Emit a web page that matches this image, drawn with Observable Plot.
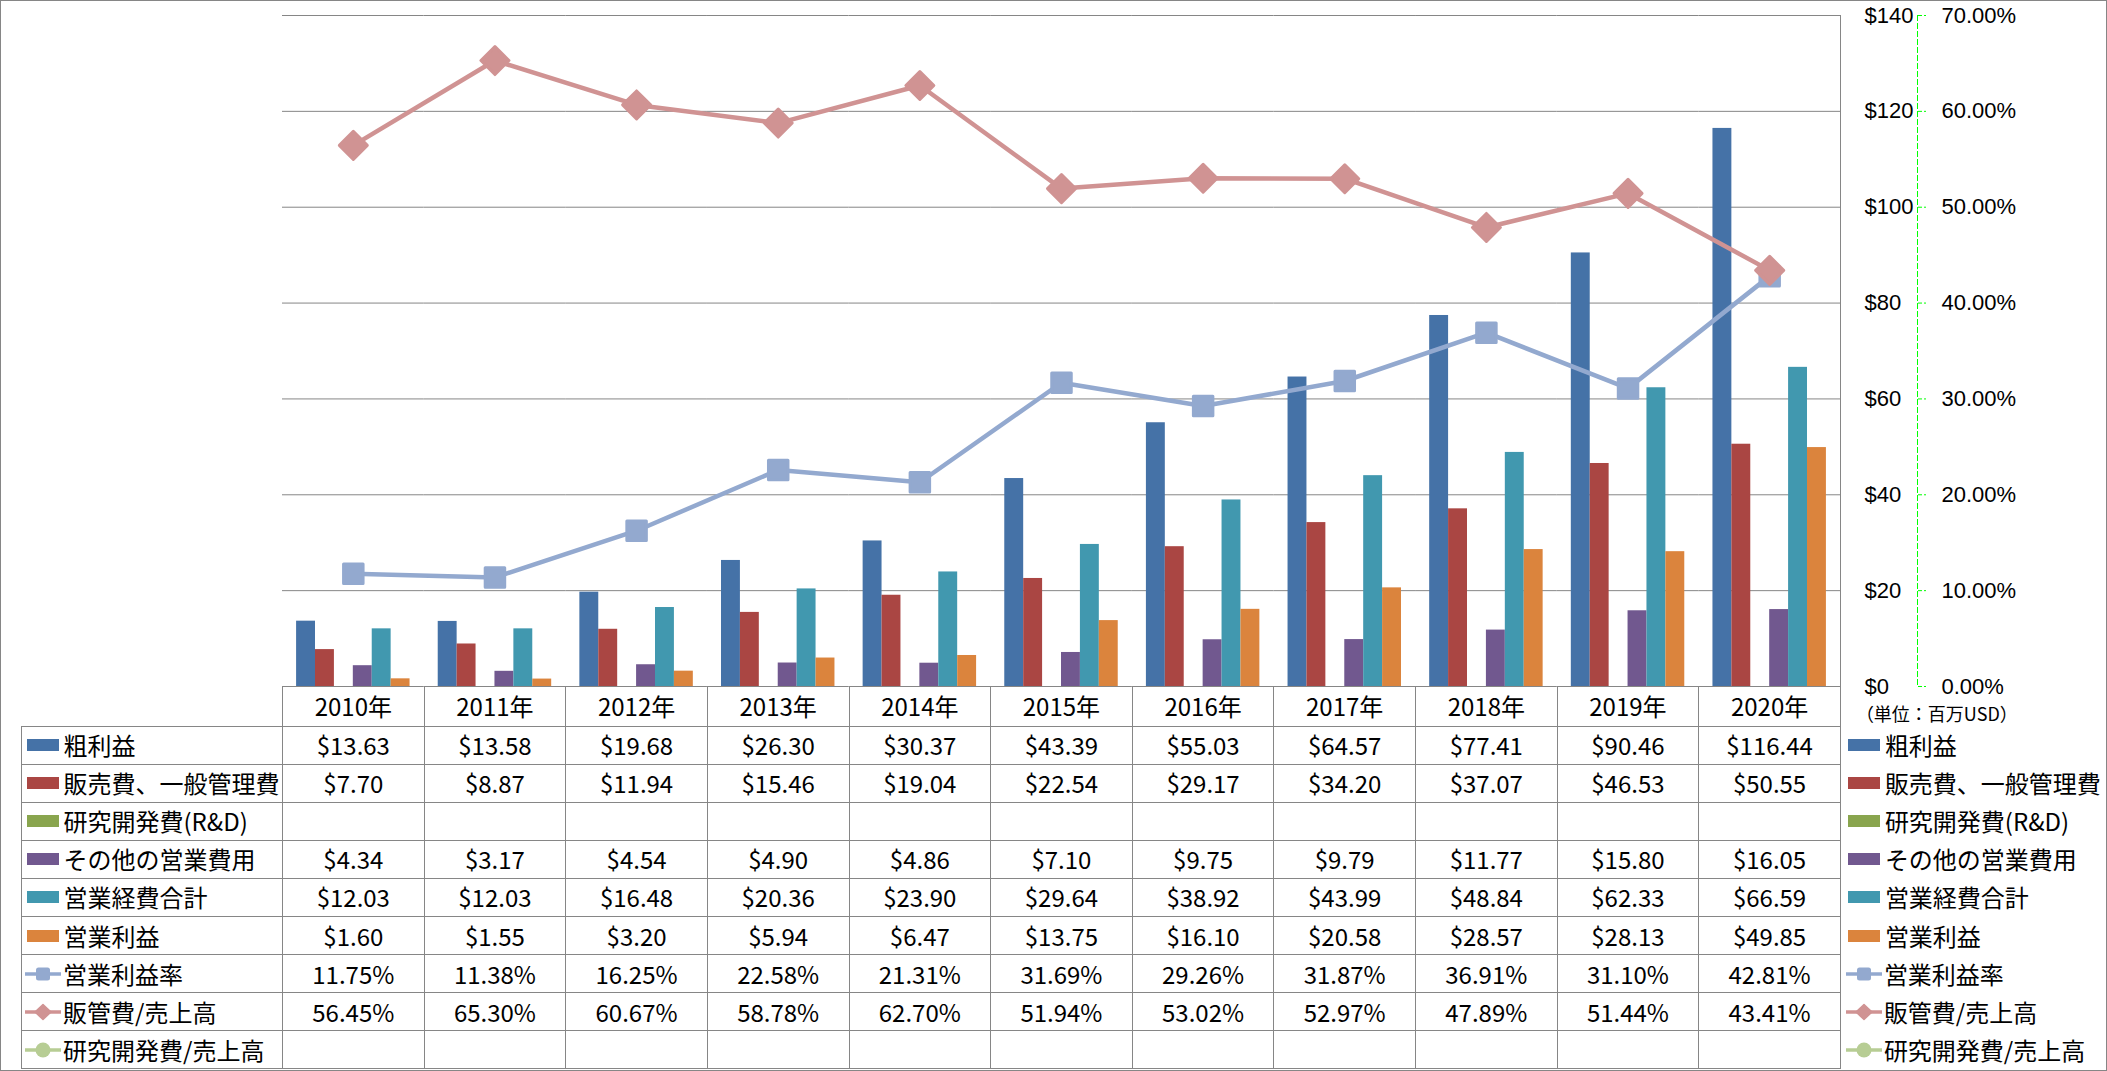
<!DOCTYPE html>
<html>
<head>
<meta charset="utf-8">
<script src="https://cdn.jsdelivr.net/npm/d3@7"></script>
<script src="https://cdn.jsdelivr.net/npm/@observablehq/plot@0.6"></script>
<style>
  html, body { margin: 0; padding: 0; background: #fff; }
  #chart { position: relative; width: 2107px; height: 1071px; overflow: hidden; background: #fff;
           font-family: "Noto Sans CJK JP", sans-serif; color: #000; }
  #chart .layer { position: absolute; left: 0; top: 0; }
  #border { position: absolute; left: 0; top: 0; width: 2107px; height: 1071px; box-sizing: border-box;
            border: 1px solid #868686; pointer-events: none; }
  #table { position: absolute; left: 21px; top: 686px; border-collapse: collapse; table-layout: fixed;
           font-size: 24px; line-height: 1; }
  #table td { border: 1px solid #868686; padding: 0; text-align: center; vertical-align: middle;
              white-space: nowrap; overflow: visible; }
  #table tr.head { height: 40px; }
  #table tr.row { height: 38.1px; }
  #table td.blank { border-left: none; border-top: none; }
  #table tr.head td.year { border-top: none; }
  #table td.side { border-top: none; border-bottom: none; border-right: none; text-align: left; }
  #table td.unit { vertical-align: bottom; padding: 0 0 4px 15px; font-size: 18px; }
  .leg { display: flex; align-items: center; }
  .sw { display: inline-block; width: 32px; height: 12px; flex: none; }
</style>
</head>
<body>
<div id="chart"></div>
<script>
// ---------- data ----------
const years = ["2010年","2011年","2012年","2013年","2014年","2015年","2016年","2017年","2018年","2019年","2020年"];

const barSeries = ["粗利益","販売費、一般管理費","研究開発費(R&D)","その他の営業費用","営業経費合計","営業利益"];
const barColors = ["#4572A7","#AA4643","#89A54E","#71588F","#4198AF","#DB843D"];

const grossProfit = [13.63, 13.58, 19.68, 26.30, 30.37, 43.39, 55.03, 64.57, 77.41, 90.46, 116.44];
const sgaExpense  = [7.70, 8.87, 11.94, 15.46, 19.04, 22.54, 29.17, 34.20, 37.07, 46.53, 50.55];
const rndExpense  = [null, null, null, null, null, null, null, null, null, null, null];
const otherOpex   = [4.34, 3.17, 4.54, 4.90, 4.86, 7.10, 9.75, 9.79, 11.77, 15.80, 16.05];
const totalOpex   = [12.03, 12.03, 16.48, 20.36, 23.90, 29.64, 38.92, 43.99, 48.84, 62.33, 66.59];
const opIncome    = [1.60, 1.55, 3.20, 5.94, 6.47, 13.75, 16.10, 20.58, 28.57, 28.13, 49.85];

const lineSeries  = ["営業利益率","販管費/売上高","研究開発費/売上高"];
const lineColors  = ["#93A9CF","#D09393","#B7CD94"];
const lineSymbols = ["square","diamond2","circle"];

const opMargin = [11.75, 11.38, 16.25, 22.58, 21.31, 31.69, 29.26, 31.87, 36.91, 31.10, 42.81];
const sgaRatio = [56.45, 65.30, 60.67, 58.78, 62.70, 51.94, 53.02, 52.97, 47.89, 51.44, 43.41];
const rndRatio = [null, null, null, null, null, null, null, null, null, null, null];

const dollarTicks = [0, 20, 40, 60, 80, 100, 120, 140];
const pctTicks = [0, 10, 20, 30, 40, 50, 60, 70];
const unitLabel = "（単位：百万USD）";

// ---------- build ----------
const FONT = '"Noto Sans CJK JP", sans-serif';
const AXIS_FONT = '"Liberation Sans", Arial, sans-serif';
const GRID = "#868686";
const W = 2107, H = 688;
const M = {marginTop: 15, marginBottom: 2, marginLeft: 282, marginRight: 267};

const barValues = [grossProfit, sgaExpense, rndExpense, otherOpex, totalOpex, opIncome];
const lineValues = [opMargin, sgaRatio, rndRatio];

const barData = [];
barValues.forEach((vals, si) => vals.forEach((v, yi) => {
  if (v != null) barData.push({year: years[yi], series: barSeries[si], value: v});
}));
const lineData = lineSeries.map((s, si) => lineValues[si].map((v, yi) => ({year: years[yi], series: s, value: v})).filter(d => d.value != null));

const chart = document.getElementById("chart");

const barPlot = Plot.plot({
  width: W, height: H, ...M,
  style: {background: "transparent", fontFamily: AXIS_FONT, fontSize: "22px", color: "#000", overflow: "visible"},
  fx: {domain: years, paddingInner: 0, paddingOuter: 0, round: false, axis: null, label: null},
  x: {domain: barSeries, paddingInner: 0, paddingOuter: 0.745, round: false, axis: null, label: null},
  y: {domain: [0, 140], label: null},
  color: {domain: barSeries, range: barColors},
  marks: [
    Plot.ruleY(dollarTicks, {stroke: GRID, strokeWidth: 1}),
    Plot.barY(barData, {fx: "year", x: "series", y: "value", fill: "series"}),
    Plot.axisY(dollarTicks, {anchor: "right", tickSize: 0, tickPadding: 24, tickFormat: d => "$" + d,
                             fontSize: 22, fill: "#000", label: null})
  ]
});
barPlot.classList.add("layer");
chart.appendChild(barPlot);

const lineMarks = [];
lineData.forEach((data, si) => {
  lineMarks.push(Plot.line(data, {x: "year", y: "value", stroke: lineColors[si], strokeWidth: 4.5, strokeLinejoin: "round"}));
  lineMarks.push(Plot.dot(data, {x: "year", y: "value", symbol: lineSymbols[si], r: si === 1 ? 12.6 : 11,
                                 fill: lineColors[si], stroke: lineColors[si], strokeWidth: 3, strokeLinejoin: "round"}));
});

const linePlot = Plot.plot({
  width: W, height: H, ...M,
  style: {background: "transparent", fontFamily: AXIS_FONT, fontSize: "22px", color: "#000", overflow: "visible"},
  x: {type: "point", domain: years, padding: 0.5, round: false, axis: null, label: null},
  y: {domain: [0, 70], label: null},
  marks: [
    Plot.frame({anchor: "right", stroke: GRID}),
    Plot.frame({anchor: "right", dx: 77, stroke: "#00ff00", strokeDasharray: "5,3"}),
    Plot.axisY(pctTicks, {anchor: "right", dx: 77, tickSize: 8, tickPadding: 16, stroke: "#00ff00",
                          strokeDasharray: "4,2", fill: "#000", fontSize: 22,
                          tickFormat: d => d.toFixed(2) + "%", label: null}),
    ...lineMarks
  ]
});
linePlot.classList.add("layer");
chart.appendChild(linePlot);

// ---------- data table ----------
function swatch(color) {
  return `<span class="sw" style="background:${color}"></span>`;
}
function lineIcon(color, sym) {
  let mk;
  if (sym === "square") mk = `<rect x="11" y="2.5" width="14" height="13" rx="2.5" fill="${color}"/>`;
  else if (sym === "diamond2") mk = `<path d="M18 1.5 L26 9 L18 16.5 L10 9 Z" fill="${color}" stroke="${color}" stroke-width="1.5" stroke-linejoin="round"/>`;
  else mk = `<circle cx="18" cy="9" r="7.5" fill="${color}"/>`;
  return `<svg width="36" height="18" style="flex:none;display:block"><line x1="0" y1="9" x2="36" y2="9" stroke="${color}" stroke-width="3.5"/>${mk}</svg>`;
}
const fmtD = v => v == null ? "" : "$" + v.toFixed(2);
const fmtP = v => v == null ? "" : v.toFixed(2) + "%";

const rows = [
  ...barSeries.map((s, i) => ({name: s, icon: swatch(barColors[i]), vals: barValues[i], fmt: fmtD, line: false})),
  ...lineSeries.map((s, i) => ({name: s, icon: lineIcon(lineColors[i], lineSymbols[i]), vals: lineValues[i], fmt: fmtP, line: true}))
];

const colW = (W - M.marginLeft - M.marginRight) / years.length;
let html = `<colgroup><col style="width:${M.marginLeft - 21}px">`;
years.forEach(() => html += `<col style="width:${colW}px">`);
html += `<col style="width:262px"></colgroup>`;
html += `<tr class="head"><td class="blank"></td>`;
years.forEach(y => html += `<td class="year">${y}</td>`);
html += `<td class="side unit">${unitLabel}</td></tr>`;
rows.forEach(r => {
  const leftPad = r.line ? 3 : 5;
  const gap = r.line ? 2 : 4.5;
  html += `<tr class="row"><td style="text-align:left"><div class="leg" style="padding-left:${leftPad}px">${r.icon}<span style="margin-left:${gap}px">${r.name}</span></div></td>`;
  r.vals.forEach(v => html += `<td>${r.fmt(v)}</td>`);
  html += `<td class="side"><div class="leg" style="padding-left:${r.line ? 5 : 7}px">${r.icon}<span style="margin-left:${r.line ? 2 : 5}px">${r.name}</span></div></td></tr>`;
});
const table = document.createElement("table");
table.id = "table";
table.innerHTML = html;
chart.appendChild(table);

const border = document.createElement("div");
border.id = "border";
chart.appendChild(border);
</script>
</body>
</html>
